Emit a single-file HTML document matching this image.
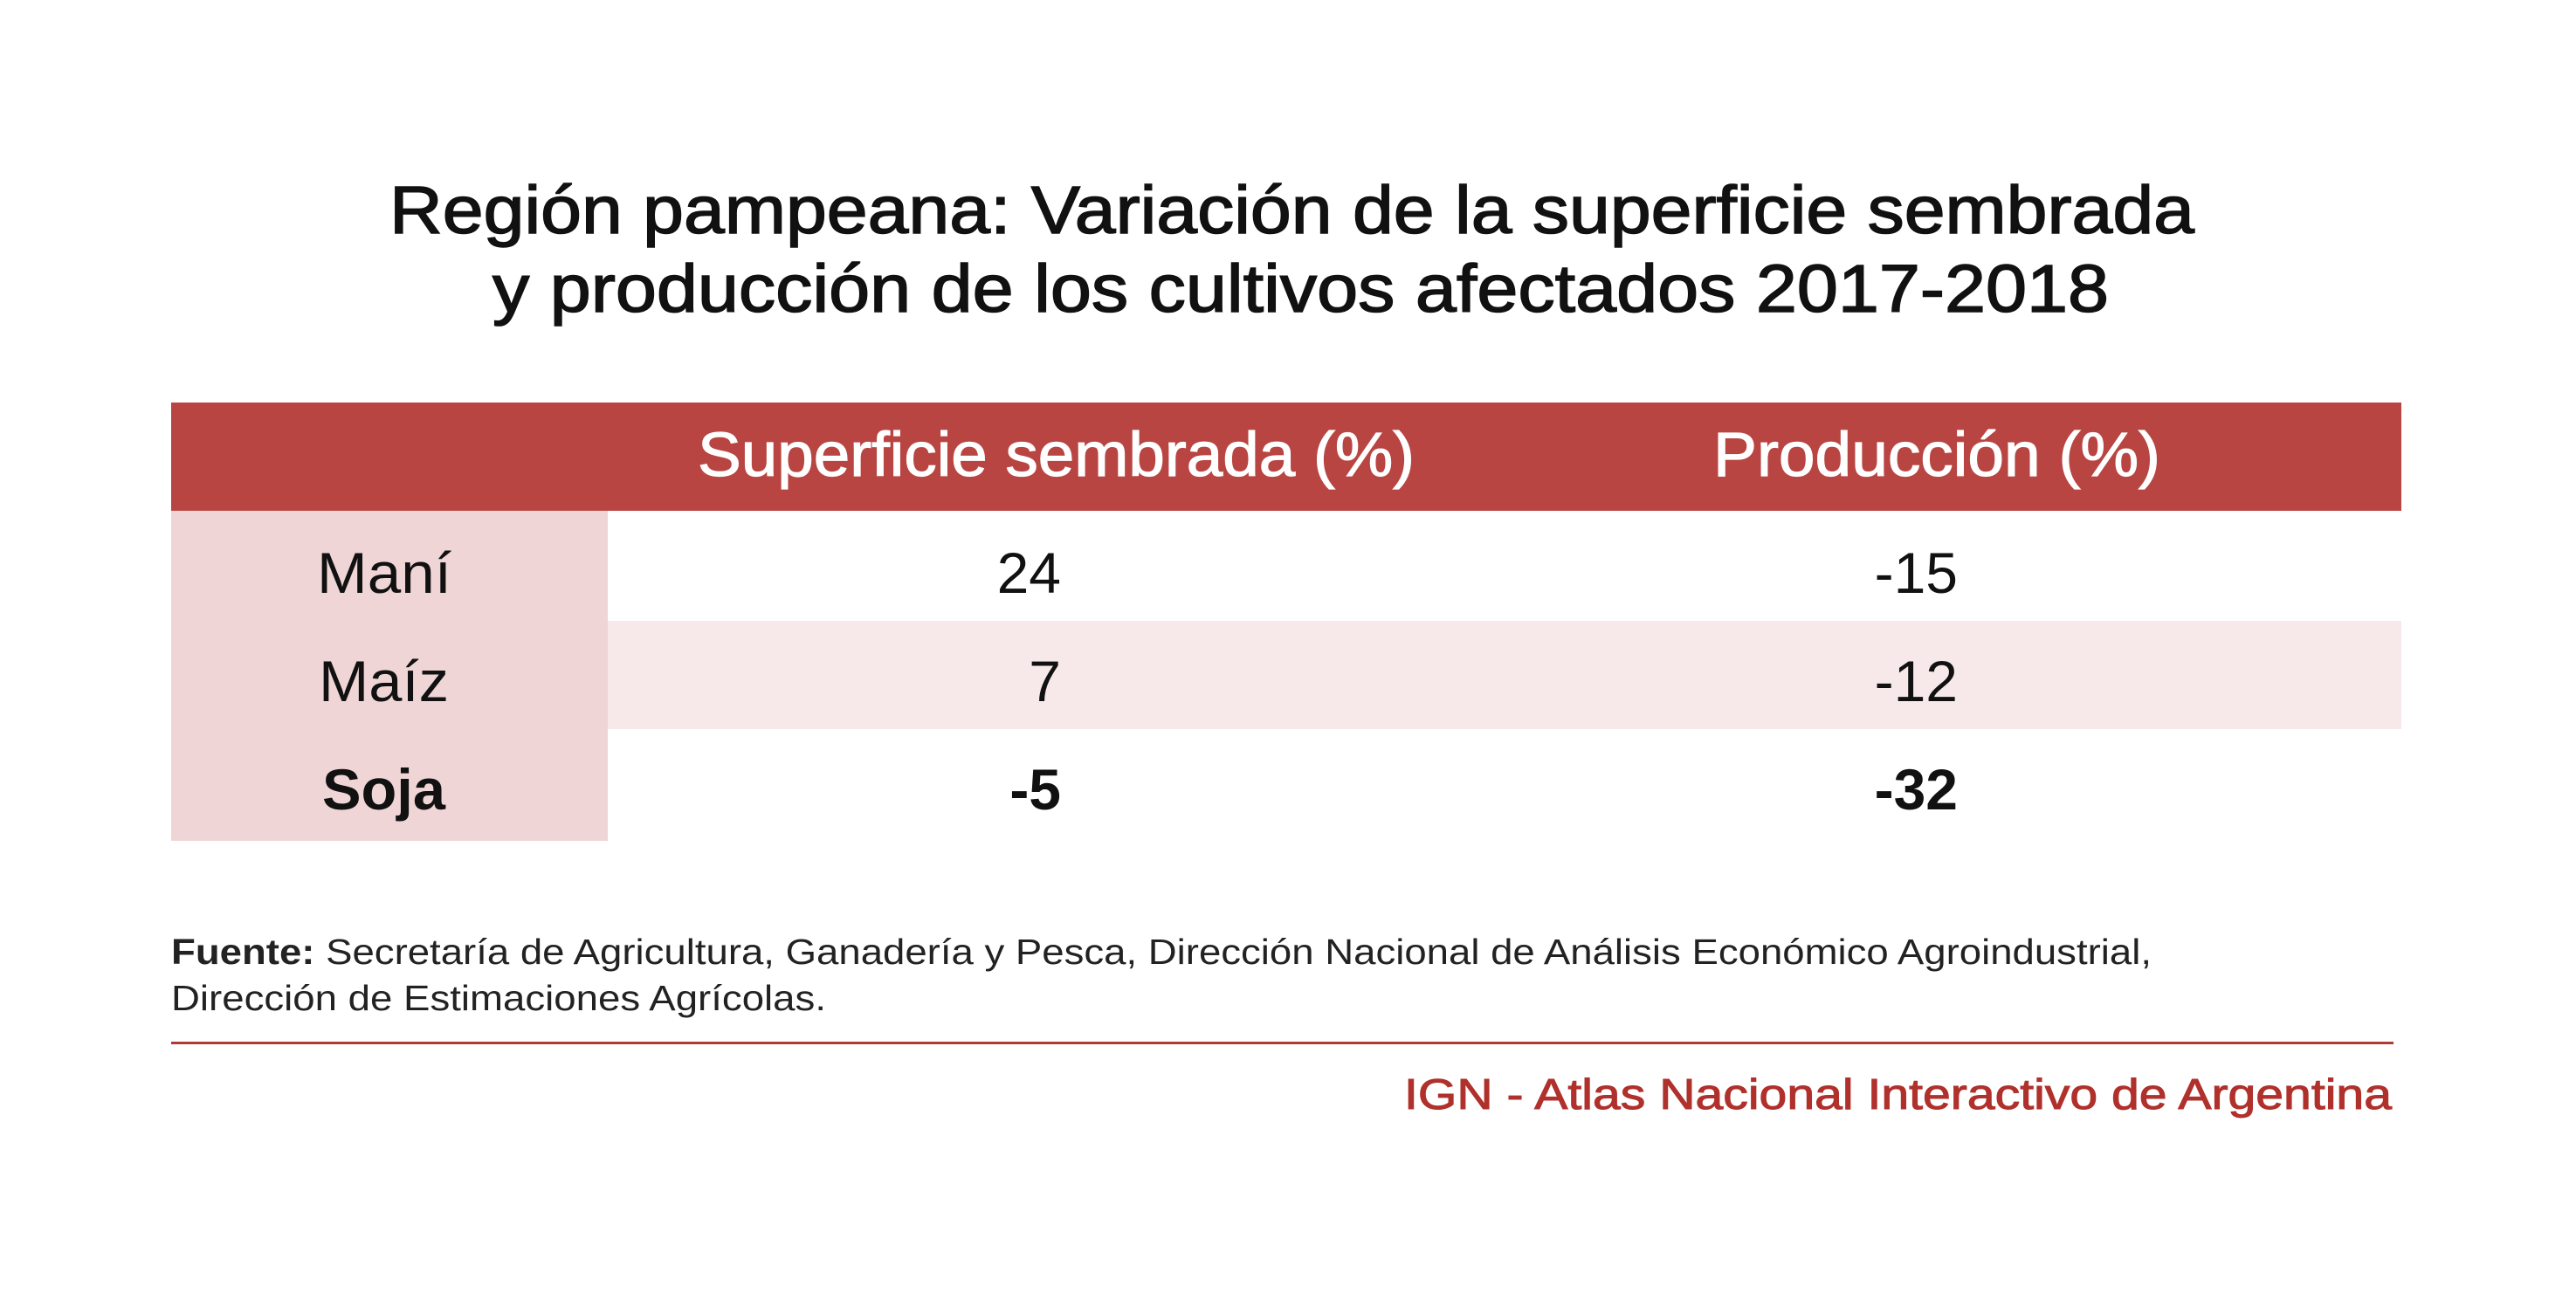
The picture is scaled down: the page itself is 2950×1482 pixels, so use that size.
<!DOCTYPE html>
<html><head><meta charset="utf-8"><style>
html,body{margin:0;padding:0;background:#fff;}
svg{display:block;}
text{font-family:"Liberation Sans","DejaVu Sans",sans-serif;}
</style></head><body>
<svg width="2950" height="1482" viewBox="0 0 2950 1482" xmlns="http://www.w3.org/2000/svg">
<rect width="2950" height="1482" fill="#fff"/>
<text x="446" y="267" font-size="77" fill="#111" stroke="#111" stroke-width="1.5" textLength="2067" lengthAdjust="spacingAndGlyphs">Región pampeana: Variación de la superficie sembrada</text>
<text x="564" y="357" font-size="77" fill="#111" stroke="#111" stroke-width="1.5" textLength="1851" lengthAdjust="spacingAndGlyphs">y producción de los cultivos afectados 2017-2018</text>
<rect x="196" y="461" width="2554" height="124" fill="#b84542"/>
<rect x="196" y="585" width="500" height="378" fill="#f0d5d6"/>
<rect x="696" y="711" width="2054" height="124" fill="#f7e8e9"/>
<text x="799" y="545" font-size="71" fill="#fff" stroke="#fff" stroke-width="1.2" textLength="821" lengthAdjust="spacingAndGlyphs">Superficie sembrada (%)</text>
<text x="1962" y="545" font-size="71" fill="#fff" stroke="#fff" stroke-width="1.2" textLength="512" lengthAdjust="spacingAndGlyphs">Producción (%)</text>
<g font-size="66" fill="#111">
<text x="363" y="679" textLength="154" lengthAdjust="spacingAndGlyphs">Maní</text>
<text x="365" y="803" textLength="149" lengthAdjust="spacingAndGlyphs">Maíz</text>
<text x="369" y="927" font-weight="bold" textLength="141" lengthAdjust="spacingAndGlyphs">Soja</text>
<text x="1215" y="679" text-anchor="end">24</text>
<text x="1215" y="803" text-anchor="end">7</text>
<text x="1215" y="927" text-anchor="end" font-weight="bold">-5</text>
<text x="2242" y="679" text-anchor="end">-15</text>
<text x="2242" y="803" text-anchor="end">-12</text>
<text x="2242" y="927" text-anchor="end" font-weight="bold">-32</text>
</g>
<text x="196" y="1104" font-size="41" fill="#222" textLength="2268" lengthAdjust="spacingAndGlyphs"><tspan font-weight="bold">Fuente:</tspan> Secretaría de Agricultura, Ganadería y Pesca, Dirección Nacional de Análisis Económico Agroindustrial,</text>
<text x="196" y="1157" font-size="41" fill="#222" textLength="750" lengthAdjust="spacingAndGlyphs">Dirección de Estimaciones Agrícolas.</text>
<rect x="196" y="1193" width="2545" height="3" fill="#b03a35"/>
<text x="1608" y="1270" font-size="49" fill="#b0302c" stroke="#b0302c" stroke-width="1" textLength="1131" lengthAdjust="spacingAndGlyphs">IGN - Atlas Nacional Interactivo de Argentina</text>
</svg>
</body></html>
